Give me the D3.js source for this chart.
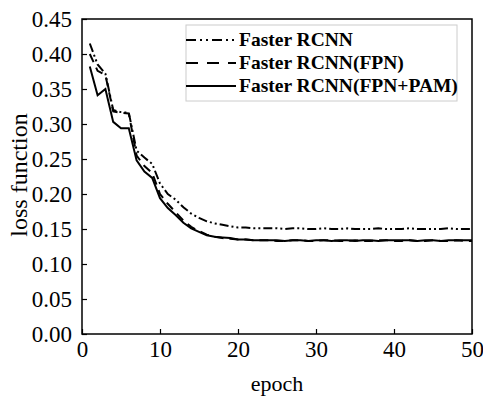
<!DOCTYPE html>
<html><head><meta charset="utf-8">
<script src="https://cdn.jsdelivr.net/npm/d3@7"></script>
<style>body{margin:0;background:#fff}svg{display:block}text{font-family:"Liberation Serif","Times New Roman",serif}</style>
</head><body><svg id="c" width="483" height="401"></svg>
<script>
const epochs = d3.range(1, 51);
const seriesNames = ["Faster RCNN", "Faster RCNN(FPN)", "Faster RCNN(FPN+PAM)"];
const fasterRCNN = [0.415,0.385,0.372,0.320,0.317,0.316,0.262,0.252,0.243,0.215,0.200,0.192,0.181,0.172,0.166,0.161,0.158,0.156,0.154,0.152,
  0.152,0.151,0.151,0.151,0.151,0.150,0.151,0.151,0.150,0.150,0.151,0.150,0.150,0.151,0.150,0.150,0.150,0.151,0.150,0.150,
  0.150,0.151,0.150,0.150,0.150,0.150,0.151,0.150,0.150,0.150];
const fasterRCNNFPN = [0.400,0.376,0.370,0.318,0.316,0.315,0.255,0.240,0.230,0.200,0.186,0.174,0.162,0.153,0.147,0.142,0.139,0.137,0.136,0.135,
  0.135,0.134,0.134,0.134,0.133,0.133,0.134,0.134,0.133,0.133,0.134,0.134,0.133,0.133,0.134,0.133,0.133,0.134,0.134,0.133,
  0.133,0.134,0.133,0.133,0.134,0.133,0.133,0.134,0.133,0.133];
const fasterRCNNFPNPAM = [0.382,0.341,0.350,0.303,0.294,0.294,0.248,0.232,0.223,0.194,0.180,0.170,0.159,0.151,0.146,0.141,0.139,0.138,0.137,0.135,
  0.135,0.134,0.134,0.134,0.134,0.133,0.134,0.134,0.133,0.134,0.134,0.133,0.134,0.134,0.133,0.134,0.134,0.133,0.134,0.134,
  0.134,0.134,0.133,0.134,0.134,0.133,0.134,0.134,0.134,0.134];
const xTicks = [0,10,20,30,40,50];
const yTicks = [0,0.05,0.10,0.15,0.20,0.25,0.30,0.35,0.40,0.45];

const svg = d3.select("#c");
const L=82,R=472,T=19,B=334;
const x = d3.scaleLinear().domain([0,50]).range([L,R]);
const y = d3.scaleLinear().domain([0,0.45]).range([B,T]);

const series = [
  {name:seriesNames[0], vals:fasterRCNN, dash:"9,3,2,3,2,3"},
  {name:seriesNames[1], vals:fasterRCNNFPN, dash:"9,6"},
  {name:seriesNames[2], vals:fasterRCNNFPNPAM, dash:null}
];
const line = d3.line().x((d,i)=>x(epochs[i])).y(d=>y(d));
series.forEach(s=>{
  svg.append("path").attr("d",line(s.vals)).attr("fill","none").attr("stroke","#000")
    .attr("stroke-width",2).attr("stroke-dasharray",s.dash);
});

// frame
svg.append("rect").attr("x",L).attr("y",T).attr("width",R-L).attr("height",B-T)
  .attr("fill","none").attr("stroke","#000").attr("stroke-width",1.5);

const xa = svg.append("g").attr("transform",`translate(0,${B})`)
  .call(d3.axisBottom(x).tickValues(xTicks).tickFormat(d3.format("d")).tickSizeInner(-5).tickSizeOuter(0).tickPadding(7));
const ya = svg.append("g").attr("transform",`translate(${L},0)`)
  .call(d3.axisLeft(y).tickValues(yTicks).tickFormat(d3.format(".2f")).tickSizeInner(-5).tickSizeOuter(0).tickPadding(10));
[xa,ya].forEach(a=>{
  a.select(".domain").remove();
  a.selectAll("line").attr("stroke","#000").attr("stroke-width",1.2);
  a.selectAll("text").attr("font-size",23).attr("fill","#000").style("font-family","'Liberation Serif',serif");
});

svg.append("text").attr("x",277).attr("y",391).attr("text-anchor","middle").attr("font-size",22).text("epoch");
svg.append("text").attr("transform","translate(27,175) rotate(-90)").attr("text-anchor","middle").attr("font-size",24).text("loss function");

// legend
const lg = svg.append("g");
lg.append("rect").attr("x",186).attr("y",25).attr("width",271).attr("height",76)
  .attr("fill","#fff").attr("stroke","#ccc").attr("stroke-width",1);
series.forEach((s,i)=>{
  const yy = 40 + i*23;
  lg.append("line").attr("x1",186).attr("x2",236).attr("y1",yy).attr("y2",yy)
    .attr("stroke","#000").attr("stroke-width",2).attr("stroke-dasharray", i===0?"10,4,2,4,2,4":(i===1?"12,9":null));
  lg.append("text").attr("x",239).attr("y",yy+6).attr("font-size",19.5).attr("font-weight","bold").text(s.name);
});
</script></body></html>
